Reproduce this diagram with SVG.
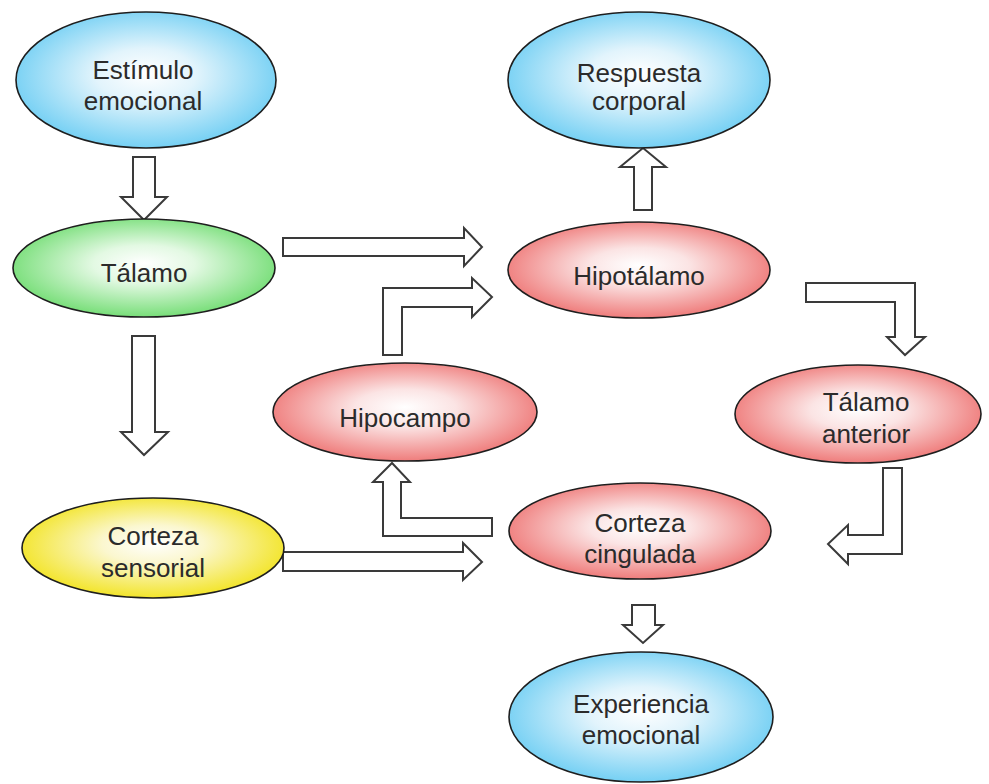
<svg xmlns="http://www.w3.org/2000/svg" width="989" height="784" viewBox="0 0 989 784">
<defs>
<radialGradient id="gBlue" cx="50%" cy="48%" r="55%" fx="50%" fy="45%">
<stop offset="0" stop-color="#ffffff"/>
<stop offset="0.35" stop-color="#e2f4fc"/>
<stop offset="1" stop-color="#6ccdf3"/>
</radialGradient>
<radialGradient id="gGreen" cx="50%" cy="48%" r="55%" fx="50%" fy="45%">
<stop offset="0" stop-color="#ffffff"/>
<stop offset="0.35" stop-color="#e3f9e3"/>
<stop offset="1" stop-color="#6fdc70"/>
</radialGradient>
<radialGradient id="gYellow" cx="50%" cy="48%" r="55%" fx="50%" fy="45%">
<stop offset="0" stop-color="#ffffff"/>
<stop offset="0.35" stop-color="#fbf7cf"/>
<stop offset="1" stop-color="#f2e31c"/>
</radialGradient>
<radialGradient id="gRed" cx="50%" cy="48%" r="55%" fx="50%" fy="45%">
<stop offset="0" stop-color="#ffffff"/>
<stop offset="0.35" stop-color="#fbe4e4"/>
<stop offset="1" stop-color="#ee7473"/>
</radialGradient>
</defs>
<style>
.node ellipse { stroke: #1e1e1e; stroke-width: 1.6; }
.node text { font-family: "Liberation Sans", Arial, sans-serif; font-size: 26px; fill: #2b2b2b; text-anchor: middle; }
#connectors polygon { fill: #ffffff; stroke: #3a3a3a; stroke-width: 2; stroke-linejoin: miter; }
</style>
<rect width="989" height="784" fill="#ffffff"/>

<g id="connectors">
<polygon points="133,157 155,157 155,197 167,197 144,220 121,197 133,197"/>
<polygon points="132,336 155,336 155,432 168,432 144,455 121,432 132,432"/>
<polygon points="283,238 464,238 464,228 482,247 464,266 464,256 283,256"/>
<polygon points="383,355 383,288 472,288 472,278 492,297 472,317 472,307 402,307 402,355"/>
<polygon points="634,210 634,167 620,167 643,148 666,167 652,167 652,210"/>
<polygon points="806,283 915,283 915,337 925,337 905,355 887,337 895,337 895,302 806,302"/>
<polygon points="883,468 902,468 902,554 848,554 848,564 828,544 848,525 848,535 883,535"/>
<polygon points="492,518 492,536 383,536 383,482 373,482 392,463 410,482 401,482 401,518"/>
<polygon points="283,552 463,552 463,543 482,562 463,580 463,571 283,571"/>
<polygon points="632,605 655,605 655,625 663,625 643,643 623,625 632,625"/>
</g>

<g id="estimulo" class="node">
<ellipse cx="146" cy="80" rx="130" ry="68" fill="url(#gBlue)"/>
<text x="143" y="79">Estímulo</text>
<text x="143" y="110">emocional</text>
</g>
<g id="talamo" class="node">
<ellipse cx="144" cy="268" rx="131" ry="49" fill="url(#gGreen)"/>
<text x="144" y="282">Tálamo</text>
</g>
<g id="corteza-sensorial" class="node">
<ellipse cx="153" cy="548" rx="131" ry="50" fill="url(#gYellow)"/>
<text x="153" y="545">Corteza</text>
<text x="153" y="577">sensorial</text>
</g>
<g id="hipocampo" class="node">
<ellipse cx="405" cy="412" rx="132" ry="49" fill="url(#gRed)"/>
<text x="405" y="427">Hipocampo</text>
</g>
<g id="respuesta" class="node">
<ellipse cx="639" cy="80" rx="131" ry="68" fill="url(#gBlue)"/>
<text x="639" y="82">Respuesta</text>
<text x="639" y="110">corporal</text>
</g>
<g id="hipotalamo" class="node">
<ellipse cx="639" cy="270" rx="131" ry="48" fill="url(#gRed)"/>
<text x="639" y="285">Hipotálamo</text>
</g>
<g id="talamo-anterior" class="node">
<ellipse cx="858" cy="414" rx="123" ry="49" fill="url(#gRed)"/>
<text x="866" y="411">Tálamo</text>
<text x="866" y="443">anterior</text>
</g>
<g id="corteza-cingulada" class="node">
<ellipse cx="640" cy="531" rx="131" ry="48" fill="url(#gRed)"/>
<text x="640" y="532">Corteza</text>
<text x="640" y="563">cingulada</text>
</g>
<g id="experiencia" class="node">
<ellipse cx="641" cy="717" rx="132" ry="65" fill="url(#gBlue)"/>
<text x="641" y="713">Experiencia</text>
<text x="641" y="744">emocional</text>
</g>
</svg>
